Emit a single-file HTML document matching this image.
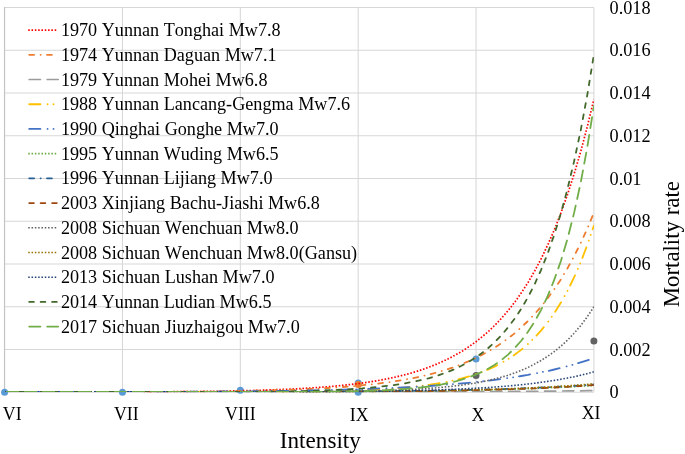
<!DOCTYPE html><html><head><meta charset="utf-8"><style>html,body{margin:0;padding:0;background:#fff}svg{display:block;will-change:transform}text{font-family:"Liberation Serif",serif;fill:#000;font-kerning:none}</style></head><body>
<svg width="685" height="454" viewBox="0 0 685 454">
<rect width="685" height="454" fill="#fff"/>
<path d="M4.6 392.30H593.9M4.6 349.54H593.9M4.6 306.79H593.9M4.6 264.03H593.9M4.6 221.28H593.9M4.6 178.52H593.9M4.6 135.77H593.9M4.6 93.01H593.9M4.6 50.26H593.9M4.6 7.50H593.9M4.60 7.5V392.3M122.46 7.5V392.3M240.32 7.5V392.3M358.18 7.5V392.3M476.04 7.5V392.3M593.90 7.5V392.3" stroke="#d7d7d7" stroke-width="1.05" fill="none"/>
<path d="M4.5 7.0V392.8" stroke="#c3c3c3" stroke-width="1.1" fill="none"/>
<circle cx="4.60" cy="392.30" r="3.5" fill="#5b9bd5"/>
<circle cx="122.46" cy="392.30" r="3.5" fill="#5b9bd5"/>
<circle cx="240.32" cy="390.16" r="3.5" fill="#5b9bd5"/>
<circle cx="358.18" cy="383.11" r="3.5" fill="#5b9bd5"/>
<circle cx="358.18" cy="384.39" r="3.5" fill="#ed7d31"/>
<circle cx="358.18" cy="392.30" r="3.5" fill="#5b9bd5"/>
<circle cx="476.04" cy="358.95" r="3.5" fill="#5b9bd5"/>
<circle cx="476.04" cy="375.41" r="3.5" fill="#636363"/>
<circle cx="593.90" cy="340.99" r="3.5" fill="#636363"/>
<clipPath id="cp"><rect x="4.6" y="7.5" width="589.30" height="384.80"/></clipPath><g clip-path="url(#cp)">
<path d="M4.6 391.5H141.84" stroke="#ff0000" stroke-width="1" stroke-dasharray="1.55 1.76" stroke-dashoffset="0" fill="none" shape-rendering="crispEdges"/>
<path d="M141.8 391.9 L148.4 391.9 L154.9 391.9 L161.5 391.8 L168.0 391.8 L174.6 391.7 L181.1 391.7 L187.7 391.6 L194.3 391.5 L200.8 391.5 L207.4 391.4 L213.9 391.3 L220.5 391.2 L227.0 391.1 L233.6 390.9 L240.1 390.8 L246.7 390.6 L253.2 390.5 L259.8 390.3 L266.3 390.1 L272.9 389.8 L279.4 389.6 L286.0 389.3 L292.5 389.0 L299.1 388.7 L305.6 388.3 L312.2 387.9 L318.7 387.4 L325.3 386.9 L331.8 386.4 L338.4 385.8 L344.9 385.1 L351.5 384.4 L358.0 383.6 L364.6 382.7 L371.1 381.7 L377.7 380.6 L384.2 379.4 L390.8 378.1 L397.4 376.6 L403.9 375.0 L410.5 373.2 L417.0 371.3 L423.6 369.1 L430.1 366.7 L436.7 364.1 L443.2 361.2 L449.8 358.0 L456.3 354.5 L462.9 350.7 L469.4 346.4 L476.0 341.7 L482.5 336.5 L489.1 330.8 L495.6 324.5 L502.2 317.5 L508.7 309.9 L515.3 301.4 L521.8 292.1 L528.4 281.9 L534.9 270.5 L541.5 258.1 L548.0 244.3 L554.6 229.2 L561.1 212.5 L567.7 194.0 L574.2 173.7 L580.8 151.3 L587.3 126.6 L593.9 99.4" stroke="#ff0000" stroke-width="1.7" stroke-dasharray="1.55 1.76" stroke-dashoffset="137.24" stroke-linecap="butt" fill="none"/>
<path d="M4.6 391.5H148.68" stroke="#ed7d31" stroke-width="1" stroke-dasharray="6.70 4.70 1.90 4.50" stroke-dashoffset="-1" fill="none" shape-rendering="crispEdges"/>
<path d="M148.7 391.9 L155.3 391.9 L162.0 391.9 L168.6 391.8 L175.3 391.8 L181.9 391.7 L188.6 391.7 L195.2 391.6 L201.8 391.6 L208.5 391.5 L215.1 391.4 L221.8 391.3 L228.4 391.2 L235.1 391.1 L241.7 391.0 L248.4 390.9 L255.0 390.7 L261.6 390.6 L268.3 390.4 L274.9 390.2 L281.6 390.0 L288.2 389.8 L294.9 389.6 L301.5 389.3 L308.2 389.0 L314.8 388.7 L321.5 388.4 L328.1 388.0 L334.7 387.6 L341.4 387.1 L348.0 386.6 L354.7 386.0 L361.3 385.4 L368.0 384.7 L374.6 384.0 L381.3 383.2 L387.9 382.3 L394.5 381.3 L401.2 380.2 L407.8 379.1 L414.5 377.8 L421.1 376.4 L427.8 374.8 L434.4 373.1 L441.1 371.2 L447.7 369.2 L454.4 366.9 L461.0 364.4 L467.6 361.7 L474.3 358.7 L480.9 355.4 L487.6 351.8 L494.2 347.9 L500.9 343.6 L507.5 338.8 L514.2 333.6 L520.8 327.8 L527.4 321.5 L534.1 314.6 L540.7 307.1 L547.4 298.7 L554.0 289.6 L560.7 279.6 L567.3 268.6 L574.0 256.5 L580.6 243.2 L587.3 228.7 L593.9 212.7" stroke="#ed7d31" stroke-width="1.8" stroke-dasharray="4.9 6.5 0.1 6.3" stroke-dashoffset="144.08" stroke-linecap="round" fill="none"/>
<path d="M4.6 391.5H403.27" stroke="#9c9c9c" stroke-width="1" stroke-dasharray="13.00 5.00" stroke-dashoffset="-1" fill="none" shape-rendering="crispEdges"/>
<path d="M403.3 391.9 L409.8 391.9 L416.4 391.9 L423.0 391.9 L429.6 391.9 L436.1 391.8 L442.7 391.8 L449.3 391.8 L455.9 391.8 L462.4 391.7 L469.0 391.7 L475.6 391.7 L482.1 391.6 L488.7 391.6 L495.3 391.5 L501.9 391.5 L508.4 391.5 L515.0 391.4 L521.6 391.4 L528.2 391.3 L534.7 391.3 L541.3 391.2 L547.9 391.1 L554.5 391.1 L561.0 391.0 L567.6 390.9 L574.2 390.8 L580.8 390.8 L587.3 390.7 L593.9 390.6" stroke="#9c9c9c" stroke-width="1.7" stroke-dasharray="11.2 6.8" stroke-dashoffset="398.67" stroke-linecap="round" fill="none"/>
<path d="M4.6 391.5H266.03" stroke="#ffc000" stroke-width="1" stroke-dasharray="13.00 5.30 1.90 4.10 1.90 4.10" stroke-dashoffset="-1" fill="none" shape-rendering="crispEdges"/>
<path d="M266.0 391.9 L272.6 391.9 L279.1 391.9 L285.7 391.8 L292.3 391.7 L298.8 391.7 L305.4 391.6 L311.9 391.5 L318.5 391.4 L325.1 391.2 L331.6 391.1 L338.2 390.9 L344.7 390.8 L351.3 390.6 L357.8 390.3 L364.4 390.1 L371.0 389.8 L377.5 389.5 L384.1 389.1 L390.6 388.7 L397.2 388.2 L403.7 387.6 L410.3 387.0 L416.9 386.3 L423.4 385.5 L430.0 384.7 L436.5 383.7 L443.1 382.5 L449.6 381.2 L456.2 379.8 L462.8 378.1 L469.3 376.3 L475.9 374.2 L482.4 371.8 L489.0 369.1 L495.5 366.1 L502.1 362.6 L508.7 358.7 L515.2 354.3 L521.8 349.4 L528.3 343.7 L534.9 337.3 L541.4 330.1 L548.0 322.0 L554.6 312.7 L561.1 302.3 L567.7 290.5 L574.2 277.1 L580.8 262.0 L587.3 244.9 L593.9 225.6" stroke="#ffc000" stroke-width="1.8" stroke-dasharray="11.2 7.1 0.1 5.9 0.1 5.9" stroke-dashoffset="261.43" stroke-linecap="round" fill="none"/>
<path d="M4.6 391.5H145.34" stroke="#4472c4" stroke-width="1" stroke-dasharray="13.00 5.30 1.90 4.10 1.90 4.10" stroke-dashoffset="-1" fill="none" shape-rendering="crispEdges"/>
<path d="M145.3 391.9 L151.9 391.9 L158.5 391.9 L165.1 391.9 L171.7 391.8 L178.3 391.8 L184.9 391.8 L191.5 391.7 L198.1 391.7 L204.7 391.7 L211.3 391.6 L217.9 391.6 L224.5 391.5 L231.1 391.5 L237.7 391.4 L244.3 391.3 L250.9 391.3 L257.5 391.2 L264.1 391.1 L270.7 391.0 L277.3 391.0 L283.9 390.9 L290.5 390.8 L297.1 390.7 L303.7 390.5 L310.3 390.4 L316.8 390.3 L323.4 390.1 L330.0 390.0 L336.6 389.8 L343.2 389.7 L349.8 389.5 L356.4 389.3 L363.0 389.1 L369.6 388.8 L376.2 388.6 L382.8 388.3 L389.4 388.1 L396.0 387.8 L402.6 387.5 L409.2 387.1 L415.8 386.8 L422.4 386.4 L429.0 386.0 L435.6 385.5 L442.2 385.0 L448.8 384.5 L455.4 384.0 L462.0 383.4 L468.6 382.8 L475.2 382.1 L481.8 381.4 L488.4 380.7 L495.0 379.9 L501.5 379.0 L508.1 378.1 L514.7 377.1 L521.3 376.0 L527.9 374.9 L534.5 373.6 L541.1 372.3 L547.7 371.0 L554.3 369.5 L560.9 367.9 L567.5 366.2 L574.1 364.4 L580.7 362.4 L587.3 360.3 L593.9 358.1" stroke="#4472c4" stroke-width="1.8" stroke-dasharray="11.2 7.1 0.1 5.9 0.1 5.9" stroke-dashoffset="140.74" stroke-linecap="round" fill="none"/>
<path d="M4.6 391.5H292.68" stroke="#70ad47" stroke-width="1" stroke-dasharray="1.55 1.76" stroke-dashoffset="0" fill="none" shape-rendering="crispEdges"/>
<path d="M292.7 391.9 L299.2 391.9 L305.8 391.9 L312.3 391.9 L318.9 391.8 L325.4 391.8 L332.0 391.8 L338.5 391.7 L345.1 391.7 L351.6 391.7 L358.2 391.6 L364.7 391.6 L371.3 391.5 L377.8 391.5 L384.4 391.4 L390.9 391.4 L397.5 391.3 L404.0 391.2 L410.5 391.2 L417.1 391.1 L423.6 391.0 L430.2 390.9 L436.7 390.8 L443.3 390.8 L449.8 390.6 L456.4 390.5 L462.9 390.4 L469.5 390.3 L476.0 390.2 L482.6 390.0 L489.1 389.9 L495.7 389.7 L502.2 389.5 L508.8 389.3 L515.3 389.1 L521.9 388.9 L528.4 388.7 L535.0 388.5 L541.5 388.2 L548.1 387.9 L554.6 387.7 L561.2 387.3 L567.7 387.0 L574.3 386.7 L580.8 386.3 L587.4 385.9 L593.9 385.5" stroke="#70ad47" stroke-width="1.6" stroke-dasharray="1.55 1.76" stroke-dashoffset="288.08" stroke-linecap="butt" fill="none"/>
<path d="M4.6 391.5H262.35" stroke="#255e91" stroke-width="1" stroke-dasharray="6.70 4.70 1.90 4.50" stroke-dashoffset="-1" fill="none" shape-rendering="crispEdges"/>
<path d="M262.3 391.9 L269.0 391.9 L275.6 391.9 L282.2 391.9 L288.9 391.9 L295.5 391.8 L302.1 391.8 L308.8 391.8 L315.4 391.7 L322.0 391.7 L328.7 391.7 L335.3 391.6 L341.9 391.6 L348.6 391.5 L355.2 391.5 L361.8 391.4 L368.4 391.4 L375.1 391.3 L381.7 391.2 L388.3 391.2 L395.0 391.1 L401.6 391.0 L408.2 390.9 L414.9 390.8 L421.5 390.8 L428.1 390.7 L434.8 390.6 L441.4 390.4 L448.0 390.3 L454.6 390.2 L461.3 390.1 L467.9 389.9 L474.5 389.8 L481.2 389.6 L487.8 389.4 L494.4 389.3 L501.1 389.1 L507.7 388.9 L514.3 388.6 L521.0 388.4 L527.6 388.2 L534.2 387.9 L540.9 387.6 L547.5 387.3 L554.1 387.0 L560.7 386.7 L567.4 386.3 L574.0 385.9 L580.6 385.5 L587.3 385.1 L593.9 384.6" stroke="#255e91" stroke-width="1.8" stroke-dasharray="4.9 6.5 0.1 6.3" stroke-dashoffset="257.75" stroke-linecap="round" fill="none"/>
<path d="M4.6 391.5H301.76" stroke="#9e480e" stroke-width="1" stroke-dasharray="6.50 4.95" stroke-dashoffset="-1" fill="none" shape-rendering="crispEdges"/>
<path d="M301.8 391.9 L308.4 391.9 L315.0 391.9 L321.7 391.9 L328.3 391.8 L335.0 391.8 L341.6 391.8 L348.2 391.7 L354.9 391.7 L361.5 391.6 L368.2 391.6 L374.8 391.6 L381.4 391.5 L388.1 391.4 L394.7 391.4 L401.4 391.3 L408.0 391.2 L414.6 391.2 L421.3 391.1 L427.9 391.0 L434.6 390.9 L441.2 390.8 L447.8 390.7 L454.5 390.6 L461.1 390.5 L467.7 390.3 L474.4 390.2 L481.0 390.0 L487.7 389.9 L494.3 389.7 L500.9 389.5 L507.6 389.3 L514.2 389.1 L520.9 388.9 L527.5 388.7 L534.1 388.4 L540.8 388.1 L547.4 387.8 L554.1 387.5 L560.7 387.2 L567.3 386.8 L574.0 386.4 L580.6 386.0 L587.3 385.5 L593.9 385.0" stroke="#9e480e" stroke-width="1.8" stroke-dasharray="4.7 6.75" stroke-dashoffset="297.16" stroke-linecap="round" fill="none"/>
<path d="M4.6 391.5H300.30" stroke="#636363" stroke-width="1" stroke-dasharray="1.55 1.76" stroke-dashoffset="0" fill="none" shape-rendering="crispEdges"/>
<path d="M300.3 391.9 L307.0 391.9 L313.6 391.9 L320.3 391.8 L327.0 391.7 L333.7 391.6 L340.3 391.6 L347.0 391.5 L353.7 391.3 L360.4 391.2 L367.0 391.1 L373.7 390.9 L380.4 390.7 L387.0 390.5 L393.7 390.3 L400.4 390.0 L407.1 389.7 L413.7 389.4 L420.4 389.0 L427.1 388.5 L433.8 388.0 L440.4 387.5 L447.1 386.8 L453.8 386.1 L460.4 385.3 L467.1 384.3 L473.8 383.3 L480.5 382.1 L487.1 380.7 L493.8 379.2 L500.5 377.4 L507.2 375.5 L513.8 373.2 L520.5 370.7 L527.2 367.8 L533.8 364.5 L540.5 360.8 L547.2 356.6 L553.9 351.9 L560.5 346.5 L567.2 340.4 L573.9 333.5 L580.6 325.7 L587.2 316.8 L593.9 306.8" stroke="#636363" stroke-width="1.6" stroke-dasharray="1.55 1.76" stroke-dashoffset="295.70" stroke-linecap="butt" fill="none"/>
<path d="M4.6 391.5H281.05" stroke="#997300" stroke-width="1" stroke-dasharray="1.55 1.76" stroke-dashoffset="0" fill="none" shape-rendering="crispEdges"/>
<path d="M281.0 391.9 L287.7 391.9 L294.4 391.9 L301.0 391.9 L307.7 391.8 L314.3 391.8 L321.0 391.8 L327.6 391.7 L334.3 391.7 L341.0 391.7 L347.6 391.6 L354.3 391.6 L360.9 391.5 L367.6 391.5 L374.2 391.4 L380.9 391.3 L387.5 391.3 L394.2 391.2 L400.9 391.1 L407.5 391.0 L414.2 390.9 L420.8 390.8 L427.5 390.7 L434.1 390.6 L440.8 390.5 L447.5 390.4 L454.1 390.2 L460.8 390.1 L467.4 390.0 L474.1 389.8 L480.7 389.6 L487.4 389.4 L494.1 389.2 L500.7 389.0 L507.4 388.8 L514.0 388.5 L520.7 388.3 L527.3 388.0 L534.0 387.7 L540.6 387.3 L547.3 387.0 L554.0 386.6 L560.6 386.2 L567.3 385.8 L573.9 385.3 L580.6 384.8 L587.2 384.3 L593.9 383.7" stroke="#997300" stroke-width="1.6" stroke-dasharray="1.55 1.76" stroke-dashoffset="276.45" stroke-linecap="butt" fill="none"/>
<path d="M4.6 391.5H297.68" stroke="#264478" stroke-width="1" stroke-dasharray="1.55 1.76" stroke-dashoffset="0" fill="none" shape-rendering="crispEdges"/>
<path d="M297.7 391.9 L304.3 391.9 L310.8 391.9 L317.4 391.8 L324.0 391.8 L330.6 391.7 L337.2 391.7 L343.8 391.6 L350.3 391.6 L356.9 391.5 L363.5 391.4 L370.1 391.4 L376.7 391.3 L383.3 391.2 L389.8 391.1 L396.4 390.9 L403.0 390.8 L409.6 390.7 L416.2 390.5 L422.8 390.3 L429.3 390.2 L435.9 390.0 L442.5 389.7 L449.1 389.5 L455.7 389.2 L462.2 388.9 L468.8 388.6 L475.4 388.3 L482.0 387.9 L488.6 387.5 L495.2 387.0 L501.7 386.5 L508.3 386.0 L514.9 385.4 L521.5 384.7 L528.1 384.0 L534.7 383.2 L541.2 382.3 L547.8 381.4 L554.4 380.4 L561.0 379.2 L567.6 378.0 L574.2 376.7 L580.7 375.2 L587.3 373.6 L593.9 371.8" stroke="#264478" stroke-width="1.6" stroke-dasharray="1.55 1.76" stroke-dashoffset="293.08" stroke-linecap="butt" fill="none"/>
<path d="M4.6 391.5H236.35" stroke="#43682b" stroke-width="1" stroke-dasharray="6.50 4.95" stroke-dashoffset="-1" fill="none" shape-rendering="crispEdges"/>
<path d="M236.4 391.9 L243.0 391.9 L249.6 391.8 L256.2 391.8 L262.8 391.7 L269.5 391.6 L276.1 391.5 L282.7 391.4 L289.3 391.3 L295.9 391.2 L302.6 391.1 L309.2 390.9 L315.8 390.7 L322.4 390.5 L329.1 390.2 L335.7 389.9 L342.3 389.6 L348.9 389.3 L355.5 388.8 L362.2 388.4 L368.8 387.8 L375.4 387.2 L382.0 386.5 L388.6 385.8 L395.3 384.9 L401.9 383.9 L408.5 382.7 L415.1 381.4 L421.7 380.0 L428.4 378.3 L435.0 376.4 L441.6 374.2 L448.2 371.8 L454.9 369.0 L461.5 365.8 L468.1 362.2 L474.7 358.1 L481.3 353.5 L488.0 348.2 L494.6 342.2 L501.2 335.4 L507.8 327.7 L514.4 319.0 L521.1 309.0 L527.7 297.7 L534.3 284.9 L540.9 270.3 L547.6 253.7 L554.2 234.9 L560.8 213.5 L567.4 189.3 L574.0 161.7 L580.7 130.4 L587.3 94.9 L593.9 54.5" stroke="#43682b" stroke-width="1.8" stroke-dasharray="4.7 6.75" stroke-dashoffset="231.75" stroke-linecap="round" fill="none"/>
<path d="M4.6 391.5H309.70" stroke="#70ad47" stroke-width="1" stroke-dasharray="13.00 5.00" stroke-dashoffset="-1" fill="none" shape-rendering="crispEdges"/>
<path d="M309.7 391.9 L316.3 391.9 L322.9 391.8 L329.5 391.7 L336.1 391.6 L342.7 391.5 L349.4 391.4 L356.0 391.3 L362.6 391.1 L369.2 390.9 L375.8 390.6 L382.4 390.4 L389.0 390.0 L395.6 389.6 L402.2 389.2 L408.8 388.7 L415.4 388.1 L422.1 387.3 L428.7 386.5 L435.3 385.5 L441.9 384.4 L448.5 383.0 L455.1 381.5 L461.7 379.6 L468.3 377.5 L474.9 375.0 L481.5 372.1 L488.1 368.7 L494.8 364.7 L501.4 360.0 L508.0 354.6 L514.6 348.2 L521.2 340.8 L527.8 332.1 L534.4 321.9 L541.0 310.1 L547.6 296.2 L554.2 279.9 L560.9 261.0 L567.5 238.8 L574.1 212.9 L580.7 182.6 L587.3 147.2 L593.9 105.8" stroke="#70ad47" stroke-width="1.8" stroke-dasharray="11.2 6.8" stroke-dashoffset="305.10" stroke-linecap="round" fill="none"/>
</g>
<path d="M28.2 30.10H56.7" stroke="#ff0000" stroke-width="1.7" stroke-dasharray="1.55 1.76" stroke-linecap="butt" fill="none"/>
<text x="60.9" y="36.20" font-size="18.15">1970 Yunnan Tonghai Mw7.8</text>
<path d="M29.2 54.81H58.2" stroke="#ed7d31" stroke-width="1.8" stroke-dasharray="4.9 6.5 0.1 6.3" stroke-linecap="round" fill="none"/>
<text x="60.9" y="60.91" font-size="18.15">1974 Yunnan Daguan Mw7.1</text>
<path d="M29.2 79.52H58.2" stroke="#9c9c9c" stroke-width="1.7" stroke-dasharray="11.2 6.8" stroke-linecap="round" fill="none"/>
<text x="60.9" y="85.62" font-size="18.15">1979 Yunnan Mohei Mw6.8</text>
<path d="M29.2 104.23H58.2" stroke="#ffc000" stroke-width="1.8" stroke-dasharray="11.2 7.1 0.1 5.9 0.1 5.9" stroke-linecap="round" fill="none"/>
<text x="60.9" y="110.33" font-size="18.15">1988 Yunnan Lancang-Gengma Mw7.6</text>
<path d="M29.2 128.94H58.2" stroke="#4472c4" stroke-width="1.8" stroke-dasharray="11.2 7.1 0.1 5.9 0.1 5.9" stroke-linecap="round" fill="none"/>
<text x="60.9" y="135.04" font-size="18.15">1990 Qinghai Gonghe Mw7.0</text>
<path d="M28.2 153.65H56.7" stroke="#70ad47" stroke-width="1.6" stroke-dasharray="1.55 1.76" stroke-linecap="butt" fill="none"/>
<text x="60.9" y="159.75" font-size="18.15">1995 Yunnan Wuding Mw6.5</text>
<path d="M29.2 178.36H58.2" stroke="#255e91" stroke-width="1.8" stroke-dasharray="4.9 6.5 0.1 6.3" stroke-linecap="round" fill="none"/>
<text x="60.9" y="184.46" font-size="18.15">1996 Yunnan Lijiang Mw7.0</text>
<path d="M29.2 203.07H58.2" stroke="#9e480e" stroke-width="1.8" stroke-dasharray="4.7 6.75" stroke-linecap="round" fill="none"/>
<text x="60.9" y="209.17" font-size="18.15">2003 Xinjiang Bachu-Jiashi Mw6.8</text>
<path d="M28.2 227.78H56.7" stroke="#636363" stroke-width="1.6" stroke-dasharray="1.55 1.76" stroke-linecap="butt" fill="none"/>
<text x="60.9" y="233.88" font-size="18.15">2008 Sichuan Wenchuan Mw8.0</text>
<path d="M28.2 252.49H56.7" stroke="#997300" stroke-width="1.6" stroke-dasharray="1.55 1.76" stroke-linecap="butt" fill="none"/>
<text x="60.9" y="258.59" font-size="18.15">2008 Sichuan Wenchuan Mw8.0(Gansu)</text>
<path d="M28.2 277.20H56.7" stroke="#264478" stroke-width="1.6" stroke-dasharray="1.55 1.76" stroke-linecap="butt" fill="none"/>
<text x="60.9" y="283.30" font-size="18.15">2013 Sichuan Lushan Mw7.0</text>
<path d="M29.2 301.91H58.2" stroke="#43682b" stroke-width="1.8" stroke-dasharray="4.7 6.75" stroke-linecap="round" fill="none"/>
<text x="60.9" y="308.01" font-size="18.15">2014 Yunnan Ludian Mw6.5</text>
<path d="M29.2 326.62H58.2" stroke="#70ad47" stroke-width="1.8" stroke-dasharray="11.2 6.8" stroke-linecap="round" fill="none"/>
<text x="60.9" y="332.72" font-size="18.15">2017 Sichuan Jiuzhaigou Mw7.0</text>
<text x="12.25" y="419.5" font-size="17.8" text-anchor="middle">VI</text>
<text x="126.3" y="420.4" font-size="17.8" text-anchor="middle">VII</text>
<text x="240.4" y="420.1" font-size="17.8" text-anchor="middle">VIII</text>
<text x="359.2" y="421.0" font-size="17.8" text-anchor="middle">IX</text>
<text x="477.8" y="421.0" font-size="17.8" text-anchor="middle">X</text>
<text x="591.05" y="418.9" font-size="17.8" text-anchor="middle">XI</text>
<text x="609.5" y="398.30" font-size="18.25">0</text>
<text x="609.5" y="355.54" font-size="18.25">0.002</text>
<text x="609.5" y="312.79" font-size="18.25">0.004</text>
<text x="609.5" y="270.03" font-size="18.25">0.006</text>
<text x="609.5" y="227.28" font-size="18.25">0.008</text>
<text x="609.5" y="184.52" font-size="18.25">0.01</text>
<text x="609.5" y="141.77" font-size="18.25">0.012</text>
<text x="609.5" y="99.01" font-size="18.25">0.014</text>
<text x="609.5" y="56.26" font-size="18.25">0.016</text>
<text x="609.5" y="13.50" font-size="18.25">0.018</text>
<text x="320.35" y="447.6" font-size="23.15" text-anchor="middle">Intensity</text>
<text transform="translate(678.5,244.2) rotate(-90)" font-size="22.85" text-anchor="middle">Mortality rate</text>
</svg></body></html>
